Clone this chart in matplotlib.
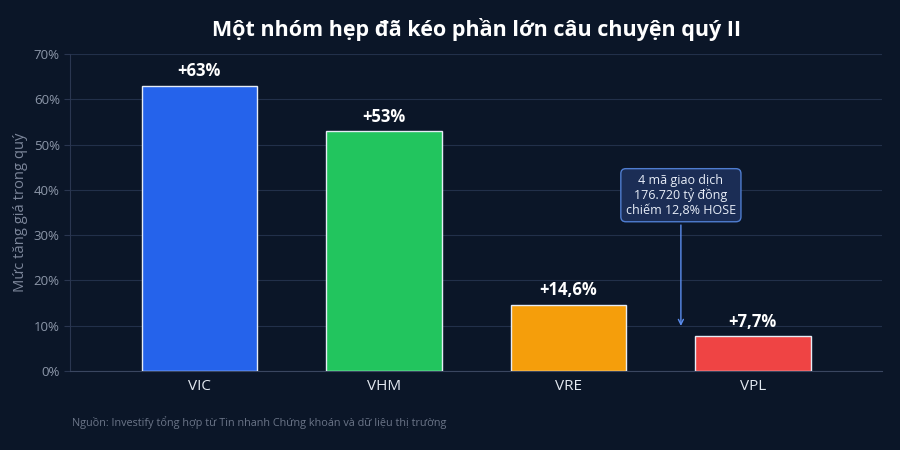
import matplotlib
matplotlib.use("Agg")
import matplotlib.pyplot as plt
from matplotlib.ticker import FuncFormatter

plt.rcParams['font.family'] = ['Open Sans', 'Noto Sans', 'DejaVu Sans']

tickers = ["VIC", "VHM", "VRE", "VPL"]
gains = [63, 53, 14.6, 7.7]
gain_labels = ["+63%", "+53%", "+14,6%", "+7,7%"]
colors = ["#2563EB", "#22C55E", "#F59E0B", "#EF4444"]

bg = "#0B1628"

fig = plt.figure(figsize=(9, 4.5), dpi=100, facecolor=bg)
ax = fig.add_axes([0.078, 0.176, 0.902, 0.704])
ax.set_facecolor(bg)

x = range(len(tickers))
ax.bar(x, gains, width=0.625, color=colors, edgecolor="#E6ECF5", linewidth=1, zorder=3)

for i, (v, lab) in enumerate(zip(gains, gain_labels)):
    ax.text(i, v + 1.2, lab, ha="center", va="bottom", color="white",
            fontsize=12, fontweight="bold", zorder=4)

ax.set_xlim(-0.7, 3.7)
ax.set_ylim(0, 70)
ax.set_yticks(range(0, 71, 10))
ax.yaxis.set_major_formatter(FuncFormatter(lambda v, p: f"{v:.0f}%"))
ax.set_xticks(list(x))
ax.set_xticklabels(tickers)

ax.grid(axis="y", color="#22304A", linewidth=0.8, zorder=0)
for s in ["top", "right"]:
    ax.spines[s].set_visible(False)
ax.spines["left"].set_color("#2A3650")
ax.spines["bottom"].set_color("#3A4660")
ax.tick_params(axis="y", colors="#2A3650", labelcolor="#8C96A8", labelsize=9.5, length=4)
ax.tick_params(axis="x", colors="#3A4660", labelcolor="#E2E8F0", labelsize=11, length=0, pad=6)

ax.set_ylabel("Mức tăng giá trong quý", color="#7C869A", fontsize=10.6)
ax.yaxis.set_label_coords(-0.052, 0.5)

ax.annotate("4 mã giao dịch\n176.720 tỷ đồng\nchiếm 12,8% HOSE",
            xy=(2.61, 9.3), xytext=(2.61, 38.8),
            ha="center", va="center", color="#E8EEF8", fontsize=9,
            linespacing=1.15,
            bbox=dict(boxstyle="round,pad=0.4", fc="#1B2D55", ec="#4F7DD0", lw=1),
            arrowprops=dict(arrowstyle="->", color="#5B8DEF", lw=1),
            zorder=5)

fig.text(0.529, 0.935, "Một nhóm hẹp đã kéo phần lớn câu chuyện quý II",
         ha="center", va="center", color="white", fontsize=15.5, fontweight="bold")
fig.text(0.08, 0.062, "Nguồn: Investify tổng hợp từ Tin nhanh Chứng khoán và dữ liệu thị trường",
         ha="left", va="center", color="#6B7588", fontsize=7.8)

fig.savefig("out.png", dpi=100, facecolor=bg)
